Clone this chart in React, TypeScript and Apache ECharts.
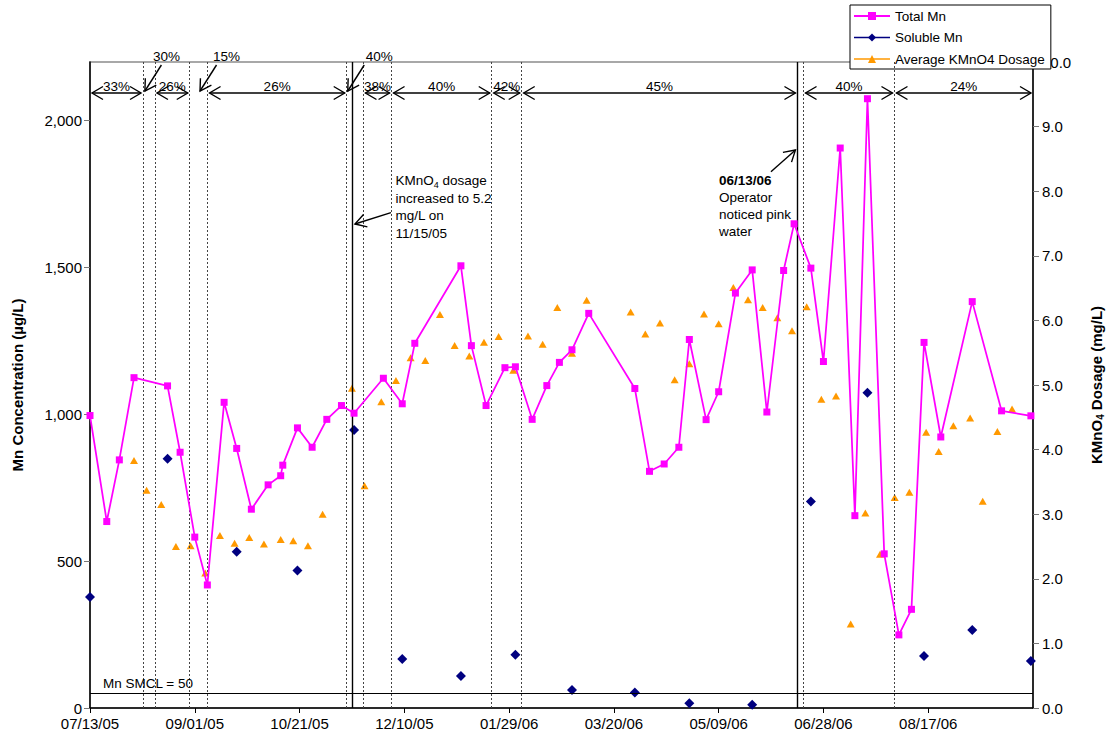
import React, { useEffect, useRef } from "react";
import * as echarts from "echarts";

// ---- data (x values are days since 07/13/05) ----
const START_UTC = Date.UTC(2005, 6, 13);
const X_MAX_DAYS = 450;
const X_INTERVAL_DAYS = 50;

const totalMnDays = [0, 8, 14, 21, 37, 43, 50, 56, 64, 70, 77, 85, 91, 92, 99, 106, 113, 120, 126, 140, 149, 155, 177, 182, 189, 198, 203, 211, 218, 224, 230, 238, 260, 267, 274, 281, 286, 294, 300, 308, 316, 323, 331, 336, 344, 350, 358, 365, 371, 379, 386, 392, 398, 406, 421, 435, 449];
const totalMnValues = [996, 635, 845, 1125, 1097, 871, 582, 419, 1041, 884, 677, 760, 791, 827, 954, 888, 983, 1030, 1004, 1123, 1036, 1242, 1506, 1234, 1030, 1159, 1162, 983, 1098, 1177, 1220, 1344, 1088, 806, 831, 888, 1255, 982, 1077, 1413, 1492, 1008, 1490, 1649, 1498, 1180, 1907, 655, 2075, 525, 249, 336, 1245, 923, 1384, 1012, 995];

const solubleMnDays = [0, 37, 70, 99, 126, 149, 177, 203, 230, 260, 286, 316, 344, 371, 398, 421, 449];
const solubleMnValues = [378, 849, 532, 468, 947, 167, 109, 181, 61, 53, 16, 11, 703, 1074, 177, 266, 160];

const dosageDays = [21, 27, 34, 41, 48, 55, 62, 69, 76, 83, 91, 97, 104, 111, 125, 131, 139, 146, 153, 160, 167, 174, 181, 188, 195, 202, 209, 216, 223, 230, 237, 258, 265, 272, 279, 286, 293, 300, 307, 314, 321, 328, 335, 342, 349, 356, 363, 370, 377, 384, 391, 399, 405, 412, 420, 426, 433, 440];
const dosageValues = [3.83, 3.37, 3.15, 2.5, 2.51, 2.09, 2.67, 2.55, 2.64, 2.54, 2.61, 2.59, 2.51, 3.0, 4.95, 3.44, 4.74, 5.07, 5.42, 5.38, 6.09, 5.61, 5.45, 5.66, 5.75, 5.23, 5.76, 5.63, 6.2, 5.49, 6.31, 6.13, 5.79, 5.96, 5.08, 5.33, 6.1, 5.95, 6.51, 6.32, 6.2, 6.04, 5.84, 6.21, 4.78, 4.83, 1.3, 3.02, 2.38, 3.26, 3.34, 4.27, 3.97, 4.37, 4.49, 3.2, 4.28, 4.63];

const dosageChangeDays = [25.3, 31, 47.6, 56.1, 122.5, 130.5, 143.9, 191.7, 206, 340.5, 383.9];
const eventDays = [125, 337.6];
const bandStartDays = [0, 31, 56.1, 130.5, 143.9, 191.7, 206, 340.5, 383.9];
const bandEndDays = [25.3, 47.6, 122.5, 143.9, 191.7, 206, 337.6, 383.9, 450];
const bandLabels = ["33%", "26%", "26%", "38%", "40%", "42%", "45%", "40%", "24%"];
const calloutDays = [26.2, 52.5, 123];
const calloutLabels = ["30%", "15%", "40%"];
const SMCL_VALUE = 50;

// ---- layout ----
const FONT = '"Liberation Sans", Arial, Helvetica, sans-serif';
const GRID = { left: 90, right: 76, top: 62, bottom: 38 };
const calloutLabelDx = [5, 10, 15];

const fmtDate = (d: number) => {
  const dt = new Date(START_UTC + Math.round(d) * 86400000);
  const mm = String(dt.getUTCMonth() + 1).padStart(2, "0");
  const dd = String(dt.getUTCDate()).padStart(2, "0");
  const yy = String(dt.getUTCFullYear() % 100).padStart(2, "0");
  return `${mm}/${dd}/${yy}`;
};

const pairs = (xs: number[], ys: number[]) => xs.map((x, i) => [x, ys[i]]);

function buildGraphics(chart: any) {
  const px = (d: number) => chart.convertToPixel({ xAxisIndex: 0 }, d) as number;
  const els: any[] = [];
  const stroke = { stroke: "#000", lineWidth: 1.4, fill: null };
  const arrowY = GRID.top + 31;
  const chevron = (tx: number, ty: number, ux: number, uy: number) => {
    const len = 11;
    const half = 6.5;
    const bx = tx - ux * len;
    const by = ty - uy * len;
    const nx = -uy;
    const ny = ux;
    return {
      type: "polyline",
      z: 20,
      silent: true,
      shape: { points: [[bx + nx * half, by + ny * half], [tx, ty], [bx - nx * half, by - ny * half]] },
      style: stroke,
    };
  };
  const arrow = (x1: number, y1: number, x2: number, y2: number) => {
    const L = Math.hypot(x2 - x1, y2 - y1);
    els.push({ type: "line", z: 20, silent: true, shape: { x1, y1, x2, y2 }, style: stroke });
    els.push(chevron(x2, y2, (x2 - x1) / L, (y2 - y1) / L));
  };
  const text = (x: number, y: number, t: string, extra: any = {}) => {
    els.push({
      type: "text",
      z: 20,
      silent: true,
      x,
      y,
      style: {
        text: t,
        fontFamily: FONT,
        fontSize: 13.5,
        fill: "#000",
        align: "center",
        verticalAlign: "middle",
        ...extra,
      },
    });
  };

  bandStartDays.forEach((s, i) => {
    const x1 = px(s) + 2;
    const x2 = px(bandEndDays[i]) - 2;
    els.push({ type: "line", z: 20, silent: true, shape: { x1, y1: arrowY, x2, y2: arrowY }, style: stroke });
    els.push(chevron(x1, arrowY, -1, 0));
    els.push(chevron(x2, arrowY, 1, 0));
    text((x1 + x2) / 2, arrowY - 7, bandLabels[i]);
  });

  calloutDays.forEach((d, i) => {
    const hx = px(d);
    const hy = arrowY - 2;
    const tx = hx + 16.5;
    const ty = GRID.top + 3;
    arrow(tx, ty, hx, hy);
    text(tx + calloutLabelDx[i], GRID.top - 6, calloutLabels[i]);
  });

  // annotation 1: KMnO4 increase
  const e1 = px(eventDays[0]);
  arrow(e1 + 39, 212.7, e1 + 3, 224);
  els.push({
    type: "text",
    z: 20,
    silent: true,
    x: e1 + 43.5,
    y: 172,
    style: {
      text: "{n|KMnO}{s|4}{n| dosage}\nincreased to 5.2\nmg/L on\n11/15/05",
      fontFamily: FONT,
      fontSize: 13.5,
      lineHeight: 17.5,
      fill: "#000",
      align: "left",
      verticalAlign: "top",
      rich: {
        n: { fontFamily: FONT, fontSize: 13.5, lineHeight: 17.5, fill: "#000" },
        s: { fontFamily: FONT, fontSize: 9, lineHeight: 17.5, fill: "#000", verticalAlign: "bottom" },
      },
    },
  });

  // annotation 2: operator noticed pink water
  const e2 = px(eventDays[1]);
  arrow(e2 - 26.5, 171.7, e2 - 2, 150);
  els.push({
    type: "text",
    z: 20,
    silent: true,
    x: e2 - 78.5,
    y: 172,
    style: {
      text: "{b|06/13/06}\nOperator\nnoticed pink\nwater",
      fontFamily: FONT,
      fontSize: 13.5,
      lineHeight: 17,
      fill: "#000",
      align: "left",
      verticalAlign: "top",
      rich: {
        b: { fontFamily: FONT, fontSize: 13.5, lineHeight: 17, fontWeight: "bold", fill: "#000" },
      },
    },
  });
  return els;
}

export default function App() {
  const ref = useRef<HTMLDivElement>(null);
  useEffect(() => {
    if (!ref.current) return;
    const chart = echarts.init(ref.current, undefined, { renderer: "svg" });
    const axisLabelStyle = { fontFamily: FONT, fontSize: 15, color: "#000" };
    const option: any = {
      animation: false,
      backgroundColor: "#fff",
      textStyle: { fontFamily: FONT },
      grid: { ...GRID, show: true, borderColor: "#8c8c8c", borderWidth: 1.5, backgroundColor: "transparent" },
      legend: {
        orient: "vertical",
        left: 850,
        top: 5,
        padding: [4, 6, 3, 3],
        itemWidth: 36,
        itemHeight: 10,
        itemGap: 7.5,
        backgroundColor: "#fff",
        borderColor: "#000",
        borderWidth: 1,
        borderRadius: 0,
        textStyle: { fontFamily: FONT, fontSize: 13.5, color: "#000" },
        data: [
          { name: "Total Mn" },
          { name: "Soluble Mn", lineStyle: { width: 1.5, opacity: 1, color: "#000080" } },
          { name: "Average KMnO4 Dosage", lineStyle: { width: 1.5, opacity: 1, color: "#FF9900" } },
        ],
      },
      xAxis: {
        type: "value",
        min: 0,
        max: X_MAX_DAYS,
        interval: X_INTERVAL_DAYS,
        axisLine: { show: true, onZero: false, lineStyle: { color: "#000", width: 1.5 } },
        axisTick: { show: true, length: 5, lineStyle: { color: "#000" } },
        axisLabel: { ...axisLabelStyle, margin: 8, showMaxLabel: false, formatter: (v: number) => fmtDate(v) },
        splitLine: { show: false },
      },
      yAxis: [
        {
          type: "value",
          min: 0,
          max: 2200,
          interval: 500,
          name: "Mn Concentration (µg/L)",
          nameLocation: "middle",
          nameRotate: 90,
          nameGap: 65,
          nameTextStyle: { fontFamily: FONT, fontSize: 15, fontWeight: "bold", color: "#000" },
          axisLine: { show: true, lineStyle: { color: "#000", width: 1.5 } },
          axisTick: { show: true, length: 6, lineStyle: { color: "#777" } },
          axisLabel: {
            ...axisLabelStyle,
            margin: 8,
            showMaxLabel: false,
            formatter: (v: number) => (v > 2000 ? "" : v.toLocaleString("en-US")),
          },
          splitLine: { show: false },
        },
        {
          type: "value",
          position: "right",
          min: 0,
          max: 10,
          interval: 1,
          name: "{b|KMnO}{s|4}{b| Dosage (mg/L)}",
          nameLocation: "middle",
          nameRotate: 90,
          nameGap: 54,
          nameTextStyle: {
            rich: {
              b: { fontFamily: FONT, fontSize: 15, fontWeight: "bold", color: "#000", lineHeight: 18 },
              s: { fontFamily: FONT, fontSize: 10, fontWeight: "bold", color: "#000", lineHeight: 18, verticalAlign: "bottom" },
            },
          },
          axisLine: { show: true, lineStyle: { color: "#000", width: 1.5 } },
          axisTick: { show: true, length: 6, lineStyle: { color: "#777" } },
          axisLabel: { ...axisLabelStyle, margin: 9, formatter: (v: number) => v.toFixed(1) },
          splitLine: { show: false },
        },
      ],
      series: [
        {
          name: "Total Mn",
          type: "line",
          yAxisIndex: 0,
          data: pairs(totalMnDays, totalMnValues),
          symbol: "rect",
          symbolSize: 7,
          showAllSymbol: true,
          color: "#FF00FF",
          itemStyle: { color: "#FF00FF" },
          lineStyle: { color: "#FF00FF", width: 1.75 },
          z: 5,
          markLine: {
            silent: true,
            symbol: ["none", "none"],
            animation: false,
            data: [
              ...dosageChangeDays.map((d) => ({
                xAxis: d,
                label: { show: false },
                lineStyle: { color: "#444", width: 1, type: [2, 2] },
              })),
              ...eventDays.map((d) => ({
                xAxis: d,
                label: { show: false },
                lineStyle: { color: "#000", width: 1.4, type: "solid" },
              })),
              {
                yAxis: SMCL_VALUE,
                lineStyle: { color: "#000", width: 1.2, type: "solid" },
                label: {
                  show: true,
                  position: "insideStartTop",
                  formatter: "Mn SMCL = 50",
                  fontFamily: FONT,
                  fontSize: 13.5,
                  color: "#000",
                  distance: [13, 3],
                },
              },
            ],
          },
        },
        {
          name: "Soluble Mn",
          type: "line",
          yAxisIndex: 0,
          data: pairs(solubleMnDays, solubleMnValues),
          symbol: "diamond",
          symbolSize: 10,
          showAllSymbol: true,
          color: "#000080",
          itemStyle: { color: "#000080" },
          lineStyle: { width: 0, opacity: 0 },
          z: 4,
        },
        {
          name: "Average KMnO4 Dosage",
          type: "line",
          yAxisIndex: 1,
          data: pairs(dosageDays, dosageValues),
          symbol: "triangle",
          symbolSize: [8, 7],
          showAllSymbol: true,
          color: "#FF9900",
          itemStyle: { color: "#FF9900" },
          lineStyle: { width: 0, opacity: 0 },
          z: 3,
        },
      ],
    };
    chart.setOption(option);
    chart.setOption({ graphic: buildGraphics(chart) });
    return () => chart.dispose();
  }, []);
  return (
    <div
      ref={ref}
      style={{ position: "absolute", left: 0, top: 0, width: 1113, height: 746, background: "#fff" }}
    />
  );
}
